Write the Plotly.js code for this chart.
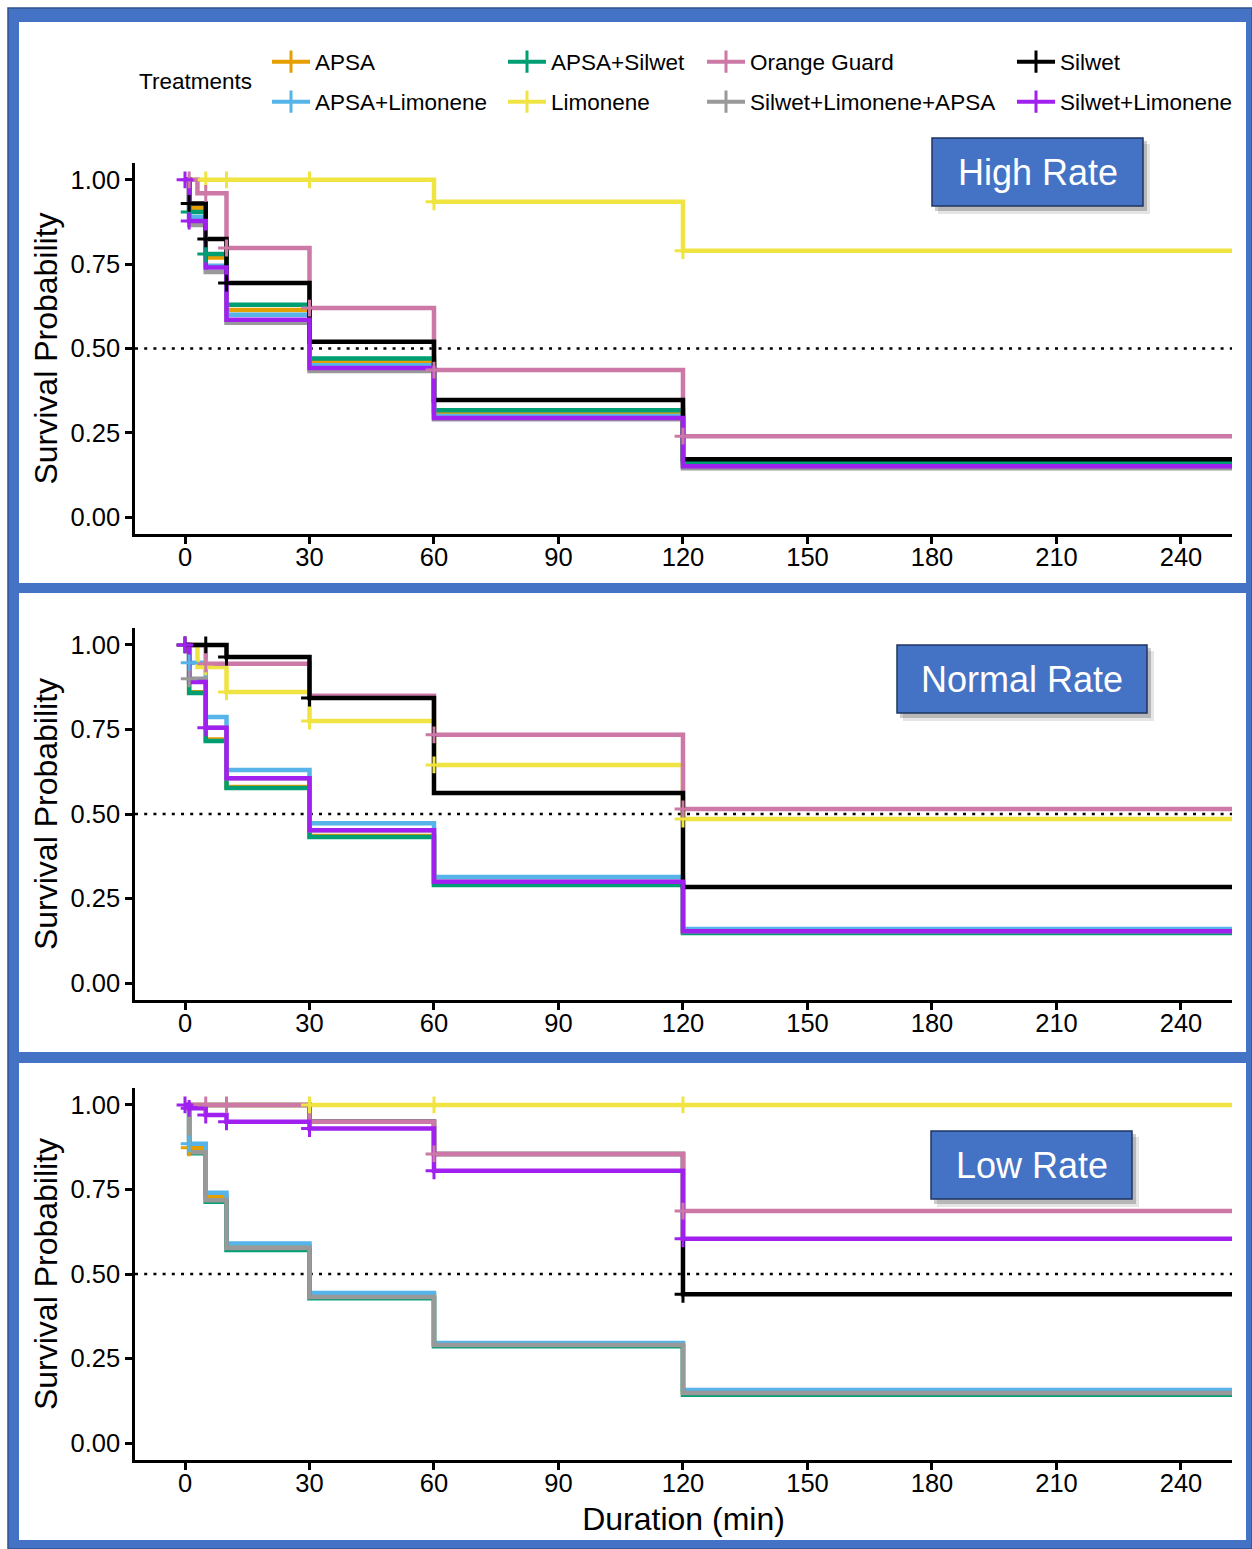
<!DOCTYPE html>
<html>
<head>
<meta charset="utf-8">
<script src="https://cdn.plot.ly/plotly-3.0.1.min.js"></script>
<style>
html,body{margin:0;padding:0;background:#fff;}
#chart{width:1252px;height:1549px;}
</style>
</head>
<body>
<div id="chart"></div>
<script>
// ---------------- DATA ----------------
const treatments = ["APSA","APSA+Limonene","APSA+Silwet","Limonene","Orange Guard","Silwet+Limonene+APSA","Silwet","Silwet+Limonene"];
const panelNames = ["High Rate","Normal Rate","Low Rate"];
const timeGrid = [0, 1, 3, 5, 10, 30, 60, 120, 255];
const xTicks = [0, 30, 60, 90, 120, 150, 180, 210, 240];
const yTicks = [0, 0.25, 0.5, 0.75, 1];

// High rate survival at each timeGrid point
const highAPSA     = [1, 0.917, 0.917, 0.77, 0.614, 0.46, 0.31, 0.155, 0.155];
const highAPSALim  = [1, 0.89, 0.89, 0.745, 0.60, 0.45, 0.30, 0.15, 0.15];
const highAPSASil  = [1, 0.905, 0.905, 0.78, 0.63, 0.47, 0.317, 0.163, 0.163];
const highLim      = [1, 1, 1, 1, 1, 1, 0.935, 0.79, 0.79];
const highOG       = [1, 1, 0.96, 0.96, 0.798, 0.62, 0.436, 0.24, 0.24];
const highSLA      = [1, 0.866, 0.866, 0.727, 0.576, 0.433, 0.29, 0.145, 0.145];
const highSil      = [1, 0.93, 0.93, 0.825, 0.694, 0.52, 0.347, 0.172, 0.172];
const highSilLim   = [1, 0.878, 0.878, 0.74, 0.585, 0.442, 0.294, 0.151, 0.151];

// Normal rate
const normAPSA     = [1, 0.86, 0.86, 0.72, 0.58, 0.435, 0.292, 0.15, 0.15];
const normAPSALim  = [1, 0.947, 0.947, 0.787, 0.63, 0.473, 0.314, 0.16, 0.16];
const normAPSASil  = [1, 0.858, 0.858, 0.716, 0.577, 0.432, 0.29, 0.148, 0.148];
const normLim      = [1, 1, 0.935, 0.935, 0.861, 0.775, 0.645, 0.485, 0.485];
const normOG       = [1, 1, 1, 0.944, 0.944, 0.85, 0.734, 0.515, 0.515];
const normSLA      = [1, 0.9, 0.9, 0.755, 0.606, 0.452, 0.3, 0.153, 0.153];
const normSil      = [1, 1, 1, 1, 0.964, 0.843, 0.562, 0.284, 0.284];
const normSilLim   = [1, 0.89, 0.89, 0.755, 0.606, 0.452, 0.3, 0.153, 0.153];

// Low rate
const lowAPSA      = [1, 0.873, 0.873, 0.728, 0.583, 0.437, 0.292, 0.15, 0.15];
const lowAPSALim   = [1, 0.885, 0.885, 0.74, 0.59, 0.444, 0.296, 0.157, 0.157];
const lowAPSASil   = [1, 0.857, 0.857, 0.714, 0.571, 0.428, 0.286, 0.143, 0.143];
const lowLim       = [1, 1, 1, 1, 1, 1, 1, 1, 1];
const lowOG        = [1, 1, 1, 1, 1, 0.95, 0.855, 0.686, 0.686];
const lowSLA       = [1, 0.86, 0.86, 0.718, 0.577, 0.432, 0.29, 0.148, 0.148];
const lowSil       = [1, 1, 1, 1, 1, 0.95, 0.855, 0.44, 0.44];
const lowSilLim    = [1, 0.99, 0.99, 0.97, 0.95, 0.93, 0.805, 0.604, 0.604];

// Censoring times (minutes)
const highCens = [[], [], [1, 5], [5, 10, 30, 60, 120], [1, 5, 10, 30, 60, 120], [], [1, 5, 10], [0, 1]];
const normCens = [[], [1], [], [5, 10, 30, 60, 120], [5, 60, 120], [1], [0, 5, 10, 30], [0, 5]];
const lowCens  = [[1], [1], [], [30, 60, 120], [5, 10, 60, 120], [], [120], [0, 1, 5, 10, 30, 60, 120]];

// ---------------- STYLE ----------------
const colors = ["#E69F00", "#56B4E9", "#009E73", "#F0E442", "#CC79A7", "#999999", "#000000", "#A020F0"];
const FONT = "Liberation Sans, Arial, Helvetica, sans-serif";
const W = 1252, H = 1549, L = 135, R = 1232, T = 163, B = 1460;
const fx = px => (px - L) / (R - L);
const fy = py => (B - py) / (B - T);

const panels = [
  {surv: [highAPSA, highAPSALim, highAPSASil, highLim, highOG, highSLA, highSil, highSilLim], cens: highCens,
   order: [0,1,2,3,4,5,6,7], top: 163, bottom: 534, box: [932, 138, 1143, 206]},
  {surv: [normAPSA, normAPSALim, normAPSASil, normLim, normOG, normSLA, normSil, normSilLim], cens: normCens,
   order: [0,1,2,3,4,5,6,7], top: 628, bottom: 1000, box: [897, 645, 1147, 713]},
  {surv: [lowAPSA, lowAPSALim, lowAPSASil, lowLim, lowOG, lowSLA, lowSil, lowSilLim], cens: lowCens,
   order: [6,0,1,2,3,4,5,7], top: 1088, bottom: 1460, box: [931, 1131, 1132, 1199]}
];

function stepAt(times, vals, t) {
  let v = vals[0];
  for (let i = 0; i < times.length; i++) if (times[i] <= t) v = vals[i];
  return v;
}

const traces = [];
const censTraces = [];
panels.forEach((p, pi) => {
  const xa = pi === 0 ? 'x' : 'x' + (pi + 1);
  const ya = pi === 0 ? 'y' : 'y' + (pi + 1);
  p.order.forEach(k => {
    traces.push({
      type: 'scatter', mode: 'lines', x: timeGrid, y: p.surv[k],
      xaxis: xa, yaxis: ya, name: treatments[k], showlegend: false, hoverinfo: 'skip',
      line: {shape: 'hv', color: colors[k], width: 4.5}
    });
  });
  p.order.forEach(k => {
    const ct = p.cens[k];
    if (!ct.length) return;
    censTraces.push({
      type: 'scatter', mode: 'markers', x: ct, y: ct.map(t => stepAt(timeGrid, p.surv[k], t)),
      xaxis: xa, yaxis: ya, name: treatments[k], showlegend: false, hoverinfo: 'skip',
      marker: {symbol: 'cross-thin-open', size: 12, color: colors[k], line: {color: colors[k], width: 3}}
    });
  });
});

// legend entries (one legend per entry so the 2x4 grid can be placed freely)
const legendTextX = [315, 551, 750, 1060];
const legendRowY = [62, 102];
const legendTraces = [];
const layout = {
  width: W, height: H,
  margin: {l: L, r: W - R, t: T, b: H - B, pad: 0},
  paper_bgcolor: '#ffffff', plot_bgcolor: 'rgba(0,0,0,0)',
  font: {family: FONT, color: '#000'},
  shapes: [], annotations: []
};
treatments.forEach((name, k) => {
  const col = Math.floor(k / 2), row = k % 2;
  const lname = k === 0 ? 'legend' : 'legend' + (k + 1);
  legendTraces.push({
    type: 'scatter', mode: 'lines+markers', x: [null], y: [null], name: name,
    legend: lname, showlegend: true, hoverinfo: 'skip',
    line: {color: colors[k], width: 4},
    marker: {symbol: 'line-ns-open', size: 16, color: colors[k], line: {color: colors[k], width: 3}}
  });
  layout[lname] = {
    x: fx(legendTextX[col] - 48), xanchor: 'left',
    y: fy(legendRowY[row]), yanchor: 'middle',
    orientation: 'v', bgcolor: 'rgba(0,0,0,0)', borderwidth: 0, itemwidth: 38,
    font: {family: FONT, size: 22.5, color: '#000'},
    itemsizing: 'trace', itemclick: false, itemdoubleclick: false
  };
});

// axes
panels.forEach((p, pi) => {
  const sx = pi === 0 ? '' : String(pi + 1);
  layout['xaxis' + sx] = {
    domain: [0, 1], anchor: 'y' + sx, range: [-12.05, 252.3],
    tickvals: xTicks, ticks: 'outside', ticklen: 7, tickwidth: 2.5, tickcolor: '#000', ticklabelstandoff: -8,
    showline: true, linewidth: 2.5, linecolor: '#000', showgrid: false, zeroline: false,
    tickfont: {family: FONT, size: 25.5, color: '#000'}, fixedrange: true,
    title: pi === 2 ? {text: 'Duration (min)', font: {family: FONT, size: 32, color: '#000'}, standoff: 12} : {text: ''}
  };
  layout['yaxis' + sx] = {
    domain: [fy(p.bottom), fy(p.top)], anchor: 'x' + sx, range: [-0.05, 1.05],
    tickvals: yTicks, tickformat: '.2f', ticks: 'outside', ticklen: 7, tickwidth: 2.5, tickcolor: '#000',
    showline: true, linewidth: 2.5, linecolor: '#000', showgrid: false, zeroline: false,
    tickfont: {family: FONT, size: 25.5, color: '#000'}, fixedrange: true,
    title: {text: 'Survival Probability', font: {family: FONT, size: 32, color: '#000'}, standoff: 4}
  };
  // median reference line
  layout.shapes.push({
    type: 'line', xref: 'x' + sx + ' domain', yref: 'y' + sx, x0: 0, x1: 1, y0: 0.5, y1: 0.5,
    layer: 'below', line: {color: '#000', width: 2.5, dash: '3px,6.2px'}
  });
  // title box with shadow
  const b = p.box;
  layout.shapes.push({type: 'rect', xref: 'paper', yref: 'paper', layer: 'above',
    x0: fx(b[0] + 6), x1: fx(b[2] + 7), y0: fy(b[1] + 6), y1: fy(b[3] + 8),
    fillcolor: 'rgba(0,0,0,0.10)', line: {width: 0}});
  layout.shapes.push({type: 'rect', xref: 'paper', yref: 'paper', layer: 'above',
    x0: fx(b[0] + 3), x1: fx(b[2] + 4), y0: fy(b[1] + 3), y1: fy(b[3] + 5),
    fillcolor: 'rgba(0,0,0,0.20)', line: {width: 0}});
  layout.shapes.push({type: 'rect', xref: 'paper', yref: 'paper', layer: 'above',
    x0: fx(b[0]), x1: fx(b[2]), y0: fy(b[1]), y1: fy(b[3]),
    fillcolor: '#4472C4', line: {color: '#1F3460', width: 1.5}});
  layout.annotations.push({
    xref: 'paper', yref: 'paper', x: fx((b[0] + b[2]) / 2), y: fy((b[1] + b[3]) / 2),
    xanchor: 'center', yanchor: 'middle', showarrow: false, text: panelNames[pi],
    font: {family: FONT, size: 36, color: '#ffffff'}
  });
});

// page frame (blue borders)
layout.shapes.unshift(
  {type: 'rect', xref: 'paper', yref: 'paper', layer: 'below', x0: fx(8), x1: fx(1252), y0: fy(8), y1: fy(1549),
   fillcolor: '#4472C4', line: {color: '#2F528F', width: 1.5}},
  {type: 'rect', xref: 'paper', yref: 'paper', layer: 'below', x0: fx(19), x1: fx(1246), y0: fy(22), y1: fy(583),
   fillcolor: '#ffffff', line: {width: 0}},
  {type: 'rect', xref: 'paper', yref: 'paper', layer: 'below', x0: fx(19), x1: fx(1246), y0: fy(593), y1: fy(1052),
   fillcolor: '#ffffff', line: {width: 0}},
  {type: 'rect', xref: 'paper', yref: 'paper', layer: 'below', x0: fx(19), x1: fx(1246), y0: fy(1063), y1: fy(1540),
   fillcolor: '#ffffff', line: {width: 0}}
);

layout.annotations.push({
  xref: 'paper', yref: 'paper', x: fx(137), y: fy(82), xanchor: 'left', yanchor: 'middle',
  showarrow: false, text: 'Treatments', font: {family: FONT, size: 22.5, color: '#000'}
});

Plotly.newPlot('chart', traces.concat(censTraces, legendTraces), layout, {displayModeBar: false, staticPlot: false});
</script>
</body>
</html>
